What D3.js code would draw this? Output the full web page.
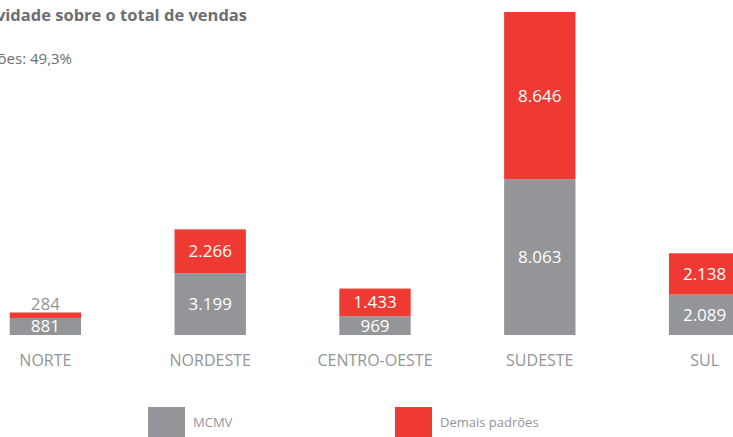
<!DOCTYPE html>
<html>
<head>
<meta charset="utf-8">
<script src="https://cdn.jsdelivr.net/npm/d3@7"></script>
<style>
body{margin:0;background:#fff;}
svg{display:block;font-family:"Open Sans",sans-serif;}
</style>
</head>
<body>
<svg width="733" height="437"></svg>
<script>
var regioes = ["NORTE", "NORDESTE", "CENTRO-OESTE", "SUDESTE", "SUL"];
var mcmv = [881, 3199, 969, 8063, 2089];
var demais = [284, 2266, 1433, 8646, 2138];
var series = ["MCMV", "Demais padrões"];
var cores = ["#939598", "#ef3a33"];

var svg = d3.select("svg");
var fmt = function(v){ return d3.format(",")(v).replace(/,/g, "."); };

var data = regioes.map(function(r, i){ return {regiao: r, mcmv: mcmv[i], demais: demais[i]}; });

var x = d3.scaleBand()
	.domain(regioes)
	.range([-37, 787])
	.paddingInner(0.567)
	.paddingOuter(0.2835);
var y = d3.scaleLinear()
	.domain([0, d3.max(data, function(d){ return d.mcmv + d.demais; })])
	.range([335, 12]);

// titulo (cortado na esquerda como no original)
svg.append("text")
	.attr("x", 247).attr("y", 21)
	.attr("text-anchor", "end")
	.attr("font-size", 16.5).attr("font-weight", "bold")
	.attr("fill", "#6d6e71")
	.text("Representatividade sobre o total de vendas");
var totM = d3.sum(mcmv), totD = d3.sum(demais);
svg.append("text")
	.attr("x", 72).attr("y", 64)
	.attr("text-anchor", "end")
	.attr("font-size", 15)
	.attr("fill", "#6d6e71")
	.text("Demais padrões: " + (totD / (totM + totD) * 100).toFixed(1).replace(".", ",") + "%");

var g = svg.append("g");
var stack = d3.stack().keys(["mcmv", "demais"])(data);

g.selectAll("g.serie")
	.data(stack)
	.enter().append("g")
	.attr("fill", function(d, i){ return cores[i]; })
	.selectAll("rect")
	.data(function(d){ return d; })
	.enter().append("rect")
	.attr("x", function(d){ return x(d.data.regiao); })
	.attr("width", x.bandwidth())
	.attr("y", function(d){ return y(d[1]); })
	.attr("height", function(d){ return y(d[0]) - y(d[1]); });

// valores
stack.forEach(function(s){
	g.selectAll(null)
		.data(s)
		.enter().append("text")
		.attr("x", function(d){ return x(d.data.regiao) + x.bandwidth() / 2; })
		.attr("y", function(d){
			var h = y(d[0]) - y(d[1]);
			if (h < 12) return y(d[1]) - 2;
			return (y(d[0]) + y(d[1])) / 2 + 6;
		})
		.attr("text-anchor", "middle")
		.attr("font-size", 17)
		.attr("fill", function(d){ return (y(d[0]) - y(d[1]) < 12) ? "#939598" : "#fff"; })
		.text(function(d){ return fmt(d[1] - d[0]); });
});

// eixo x
var ax = svg.append("g")
	.attr("transform", "translate(0,335)")
	.call(d3.axisBottom(x).tickSize(0).tickPadding(20));
ax.select(".domain").remove();
ax.selectAll("text")
	.attr("font-size", 16)
	.attr("font-family", "\"Open Sans\",sans-serif")
	.attr("fill", "#939598");

// legenda
var leg = svg.append("g").selectAll("g")
	.data(series)
	.enter().append("g")
	.attr("transform", function(d, i){ return "translate(" + (148 + i * 247) + ",407)"; });
leg.append("rect")
	.attr("width", 37).attr("height", 30)
	.attr("fill", function(d, i){ return cores[i]; });
leg.append("text")
	.attr("x", 45).attr("y", 20)
	.attr("font-size", 13)
	.attr("fill", "#939598")
	.text(function(d){ return d; });
</script>
</body>
</html>
